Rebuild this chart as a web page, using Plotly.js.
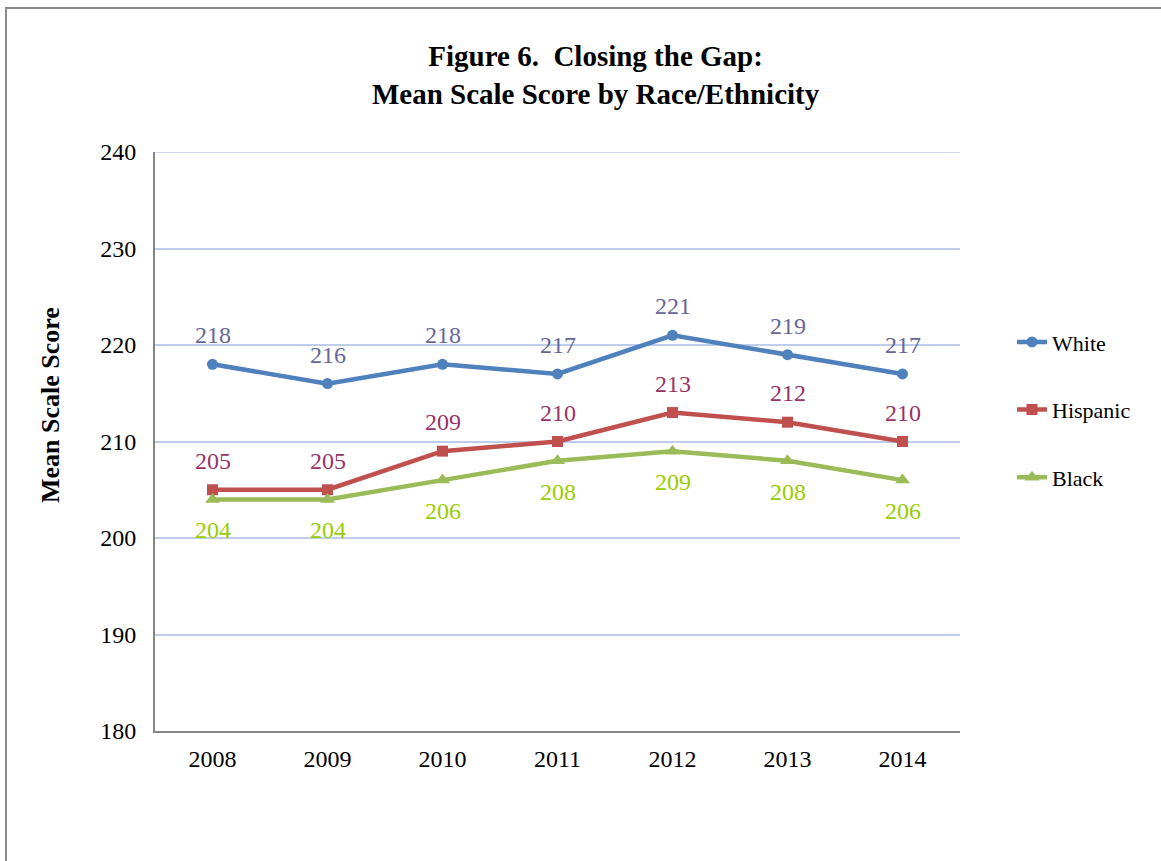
<!DOCTYPE html>
<html>
<head>
<meta charset="utf-8">
<script src="https://cdn.plot.ly/plotly-3.0.1.min.js"></script>
<style>
html,body{margin:0;padding:0;background:#fff;}
#chart{width:1161px;height:861px;position:absolute;left:0;top:0;}
#frame{position:absolute;left:5px;top:7px;width:1160px;height:860px;border-left:2px solid #8a8a8a;border-top:2px solid #8a8a8a;pointer-events:none;}
</style>
</head>
<body>
<div id="chart"></div>
<div id="frame"></div>
<script>
const years = ['2008','2009','2010','2011','2012','2013','2014'];
const white = [218,216,218,217,221,219,217];
const hispanic = [205,205,209,210,213,212,210];
const black = [204,204,206,208,209,208,206];

const seriesNames = ['White','Hispanic','Black'];
const lineColors = ['#4F81BD','#C0504D','#9BBB59'];
const labelColors = ['#666699','#993366','#99CC00'];
const symbols = ['circle','square','triangle-up'];
const markerSizes = [11,11,13];
const labelShift = [29,29,-31];
const allSeries = [white, hispanic, black];

const font = '"Liberation Serif", "Times New Roman", Times, serif';

const traces = allSeries.map((vals,i)=>({
  type:'scatter', mode:'lines+markers', name:seriesNames[i],
  x:years, y:vals, legendgroup:'g'+i,
  line:{color:lineColors[i], width:4.5},
  marker:{symbol:symbols[i], size:markerSizes[i], color:lineColors[i]},
  hoverinfo:'x+y'
}));

const annotations = [];
allSeries.forEach((vals,i)=>{
  vals.forEach((v,j)=>{
    annotations.push({x:j, y:v, xref:'x', yref:'y', text:String(v),
      showarrow:false, yshift:labelShift[i], yanchor:'middle', xanchor:'center',
      font:{family:font, size:24, color:labelColors[i]}});
  });
});
annotations.push({text:'<b>Mean Scale Score</b>', xref:'paper', yref:'paper', x:0, y:0.563,
  xshift:-105, xanchor:'center', yanchor:'middle', textangle:-90, showarrow:false,
  font:{family:font, size:26, color:'#000'}});

const layout = {
  width:1161, height:861,
  margin:{l:155, r:201, t:152, b:130},
  paper_bgcolor:'#ffffff', plot_bgcolor:'#ffffff',
  font:{family:font, size:24, color:'#000'},
  title:{text:'<b>Figure 6.  Closing the Gap:</b><br><b>Mean Scale Score by Race/Ethnicity</b>',
    x:0.513, xanchor:'center', y:0.9235, yanchor:'middle', font:{family:font, size:29, color:'#000'}},
  xaxis:{type:'category', range:[-0.5,6.5], showgrid:false, showline:true, linecolor:'#868686', linewidth:2,
    ticks:'', tickfont:{family:font,size:24,color:'#000'}, ticklabelstandoff:5, fixedrange:true},
  yaxis:{range:[180,240], dtick:10, showgrid:true, gridcolor:'#BDCDEA', gridwidth:1.5,
    showline:true, linecolor:'#868686', linewidth:2, zeroline:false, ticks:'',
    tickfont:{family:font,size:24,color:'#000'}, ticklabelstandoff:12, fixedrange:true},
  legend:{x:1.0646, xanchor:'left', y:0.555, yanchor:'middle', font:{family:font,size:22,color:'#000'},
    tracegroupgap:36, bgcolor:'rgba(0,0,0,0)'},
  shapes:[{type:'line', xref:'paper', yref:'y', x0:0, x1:1, y0:240, y1:240, line:{color:'#BDCDEA', width:1.5}, layer:'below'}],
  annotations:annotations,
  showlegend:true
};

Plotly.newPlot('chart', traces, layout, {displayModeBar:false});
</script>
</body>
</html>
